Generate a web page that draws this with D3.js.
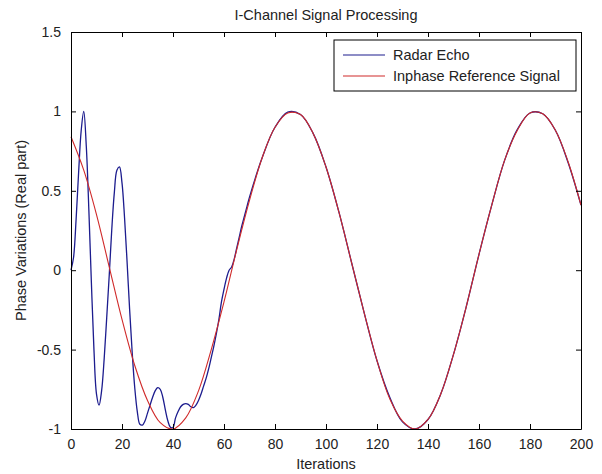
<!DOCTYPE html>
<html>
<head>
<meta charset="utf-8">
<script src="https://cdn.jsdelivr.net/npm/d3@7"></script>
<style>
  html, body { margin: 0; padding: 0; background: #ffffff; }
  svg { display: block; }
  text { font-family: "Liberation Sans", Arial, sans-serif; fill: #222; }
</style>
</head>
<body>
<svg id="chart" width="602" height="474"></svg>
<script>
// ---- data ----
const title = "I-Channel Signal Processing";
const xLabel = "Iterations";
const yLabel = "Phase Variations (Real part)";
const seriesNames = ["Radar Echo", "Inphase Reference Signal"];

const xTicks = [0, 20, 40, 60, 80, 100, 120, 140, 160, 180, 200];
const yTicks = [-1, -0.5, 0, 0.5, 1, 1.5];

// Radar Echo (blue)
const echoX = [0,1,2,3,4,5,6,7,8,9,10,11,12,13,14,15,16,17,18,19,20,
  21,22,23,24,25,26,27,28,29,30,31,32,33,34,35,36,37,38,39,40,
  41,42,43,44,45,46,47,48,49,50,51,52,53,54,55,56,57,58,59,60,
  61,62,63,64,65,66,67,68,69,70,
  75,80,85,90,95,100,105,110,115,120,125,130,135,140,145,150,155,160,165,170,175,180,185,190,195,200];
const echoY = [0.00,0.08,0.32,0.62,0.88,1.00,0.78,0.38,-0.08,-0.50,-0.78,
  -0.85,-0.76,-0.56,-0.30,-0.03,0.26,0.49,0.63,0.65,0.55,
  0.33,0.05,-0.25,-0.52,-0.74,-0.89,-0.97,-0.975,-0.95,-0.90,
  -0.85,-0.80,-0.76,-0.74,-0.75,-0.80,-0.88,-0.95,-0.99,-0.99,
  -0.93,-0.89,-0.86,-0.845,-0.84,-0.845,-0.86,-0.865,-0.85,-0.82,
  -0.78,-0.73,-0.68,-0.62,-0.55,-0.48,-0.40,-0.31,-0.20,-0.12,
  -0.05,0.00,0.02,0.07,0.14,0.21,0.28,0.34,0.40,0.46,
  0.71,0.90,0.995,0.98,0.86,0.65,0.37,0.05,-0.27,-0.57,-0.80,-0.955,-1.0,-0.94,-0.78,-0.53,-0.23,0.10,0.41,0.69,0.885,0.99,0.985,0.88,0.675,0.41];

// Inphase Reference Signal (red)
const refX = [0,5,10,15,20,25,30,35,40,45,50,55,60,65,70,75,80,85,90,95,100,
  105,110,115,120,125,130,135,140,145,150,155,160,165,170,175,180,185,190,195,200];
const refY = [0.84,0.63,0.35,0.02,-0.31,-0.60,-0.82,-0.96,-1.0,-0.93,-0.76,
  -0.50,-0.20,0.13,0.44,0.71,0.90,0.99,0.98,0.86,0.65,
  0.37,0.05,-0.27,-0.57,-0.81,-0.95,-1.0,-0.94,-0.78,-0.53,
  -0.23,0.10,0.41,0.69,0.88,0.99,0.985,0.88,0.68,0.41];

// ---- layout ----
const margin = {left: 71, top: 32, right: 21, bottom: 45};
const W = 602, H = 474;
const iw = W - margin.left - margin.right;
const ih = H - margin.top - margin.bottom;

const svg = d3.select("#chart");
const g = svg.append("g").attr("transform", `translate(${margin.left},${margin.top})`);

const x = d3.scaleLinear().domain([0, 200]).range([0, iw]);
const y = d3.scaleLinear().domain([-1, 1.5]).range([ih, 0]);

// lines
const line = d3.line().x(d => x(d[0])).y(d => y(d[1])).curve(d3.curveCatmullRom.alpha(0.5));
const echo = echoX.map((v, i) => [v, echoY[i]]);
const ref = refX.map((v, i) => [v, refY[i]]);

g.append("path").datum(echo).attr("d", line)
  .attr("fill", "none").attr("stroke", "#1c1c8e").attr("stroke-width", 1.3);
g.append("path").datum(ref).attr("d", line)
  .attr("fill", "none").attr("stroke", "#d02a2a").attr("stroke-width", 1.1);

// axes (MATLAB style: ticks inside, box)
const tickLen = 5;
const xAxisB = d3.axisBottom(x).tickValues(xTicks).tickSizeInner(-tickLen).tickSizeOuter(0).tickPadding(10).tickFormat(d => String(d));
const xAxisT = d3.axisTop(x).tickValues(xTicks).tickSizeInner(-tickLen).tickSizeOuter(0).tickFormat("");
const yAxisL = d3.axisLeft(y).tickValues(yTicks).tickSizeInner(-tickLen).tickSizeOuter(0).tickPadding(10).tickFormat(d => String(d));
const yAxisR = d3.axisRight(y).tickValues(yTicks).tickSizeInner(-tickLen).tickSizeOuter(0).tickFormat("");

function styleAxis(sel) {
  sel.select(".domain").attr("stroke", "#000").attr("stroke-width", 1);
  sel.selectAll(".tick line").attr("stroke", "#000");
  sel.selectAll(".tick text").attr("font-size", 14).attr("fill", "#222")
     .attr("font-family", "'Liberation Sans', Arial, sans-serif");
}
g.append("g").attr("transform", `translate(0,${ih})`).call(xAxisB).call(styleAxis);
g.append("g").call(xAxisT).call(styleAxis);
g.append("g").call(yAxisL).call(styleAxis);
g.append("g").attr("transform", `translate(${iw},0)`).call(yAxisR).call(styleAxis);

// title and labels
svg.append("text").attr("x", margin.left + iw / 2).attr("y", 20)
  .attr("text-anchor", "middle").attr("font-size", 14.5).text(title);
svg.append("text").attr("x", margin.left + iw / 2).attr("y", 469)
  .attr("text-anchor", "middle").attr("font-size", 14.5).text(xLabel);
svg.append("text").attr("transform", `translate(26,${margin.top + ih / 2}) rotate(-90)`)
  .attr("text-anchor", "middle").attr("font-size", 14.5).text(yLabel);

// legend
const lg = svg.append("g").attr("transform", "translate(334,40)");
lg.append("rect").attr("width", 242).attr("height", 51)
  .attr("fill", "#fff").attr("stroke", "#000").attr("stroke-width", 1);
const legColors = ["#1c1c8e", "#d02a2a"];
seriesNames.forEach((name, i) => {
  const cy = 15 + i * 21;
  lg.append("line").attr("x1", 9).attr("x2", 51).attr("y1", cy).attr("y2", cy)
    .attr("stroke", legColors[i]).attr("stroke-width", 1.2);
  lg.append("text").attr("x", 59).attr("y", cy + 5).attr("font-size", 14.5).text(name);
});
</script>
</body>
</html>
